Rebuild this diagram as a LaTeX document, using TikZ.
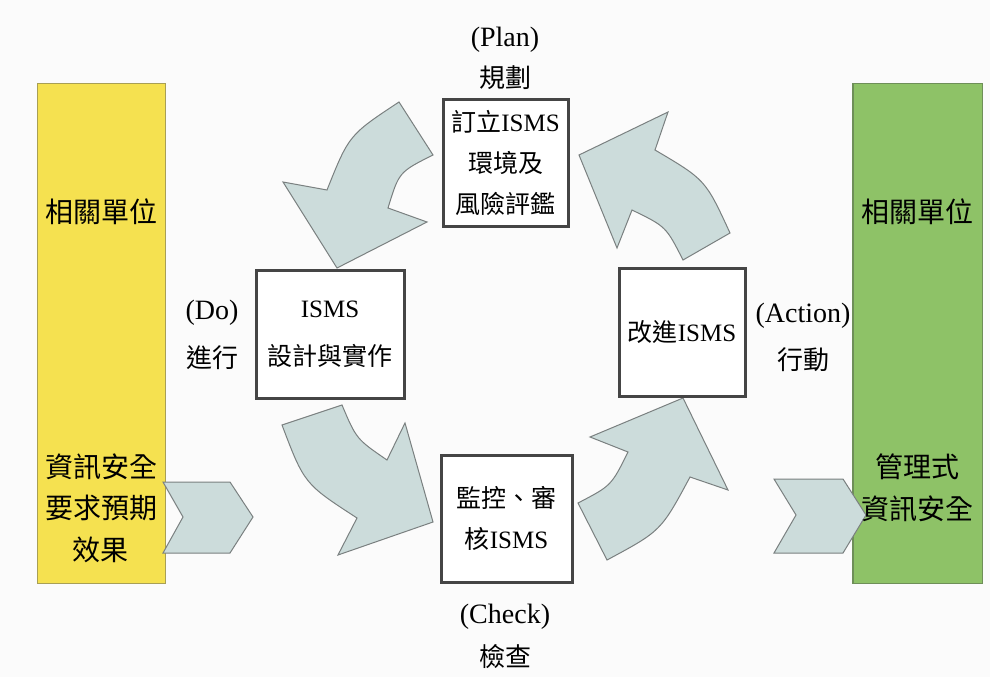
\documentclass[tikz,border=0pt]{standalone}
\usepackage{fontspec}
\setmainfont{Liberation Serif}
\newfontfamily\cjk{Noto Sans CJK TC}
\definecolor{bgc}{HTML}{FBFBFB}
\definecolor{yfill}{HTML}{F5E150}
\definecolor{ydraw}{HTML}{A89F55}
\definecolor{gfill}{HTML}{8EC267}
\definecolor{gdraw}{HTML}{6E8F58}
\definecolor{afill}{HTML}{CCDCDB}
\definecolor{adraw}{HTML}{7A8080}
\definecolor{bdraw}{HTML}{454545}
\begin{document}
\begin{tikzpicture}[x=1pt,y=-1pt,
  sidebar/.style={line width=1pt},
  blockarrow/.style={fill=afill,draw=adraw,line width=1pt,line join=miter},
  stagebox/.style={draw=bdraw,fill=white,line width=3pt,inner sep=0pt,align=center,
    font=\fontsize{25}{41}\selectfont},
  sidetext/.style={inner sep=0pt,align=center,font=\fontsize{28}{41.5}\selectfont\cjk},
  lbl/.style={inner sep=0pt,font=\fontsize{28}{34}\selectfont},
  lblc/.style={inner sep=0pt,font=\fontsize{26}{34}\selectfont\cjk}]
\useasboundingbox (0,0) rectangle (990,677);
\fill[bgc] (0,0) rectangle (990,677);
% side bars
\draw[sidebar,fill=yfill,draw=ydraw] (37,83) rectangle (165,583);
\draw[sidebar,fill=gfill,draw=gdraw] (852,83) rectangle (982,583);
\draw[gdraw,line width=2pt] (853,83) -- (853,583);
% chevrons
\path[blockarrow] (163,482) -- (230,482) -- (253,517) -- (230,553) -- (163,553) -- (183,517) -- cycle;
\path[blockarrow] (774,479) -- (843,479) -- (866,515) -- (843,553) -- (774,553) -- (796,515) -- cycle;
% curved arrows
\path[blockarrow] (399,102) .. controls (349,135) .. (327,190) -- (283,182) -- (337,268) -- (427,222) -- (388,208) .. controls (399,172) .. (433,155) -- cycle;
\path[blockarrow] (683,260) -- (730,233) .. controls (705.5,179.8) .. (655,150) -- (668,112) -- (579,155) -- (617,248) -- (632,210) .. controls (666,226.5) .. (683,260) -- cycle;
\path[blockarrow] (282,425) -- (342,405) .. controls (356.4,439) .. (387,460) -- (405,423) -- (433,522) -- (338,555) -- (357,518) .. controls (304.3,483.8) .. (282,425) -- cycle;
\path[blockarrow] (607,560) .. controls (661,531) .. (690,477) -- (728,490) -- (683,398) -- (590,437) -- (628,452) .. controls (611.3,485.7) .. (578,503) -- cycle;
% stage boxes
\node[stagebox,minimum width=125pt,minimum height=127pt] (plan) at (505.5,163) {{\cjk 訂立}ISMS\\{\cjk 環境及}\\{\cjk 風險評鑑}};
\node[stagebox,minimum width=148pt,minimum height=128pt] (do) at (330,334) {ISMS\\[7pt]{\cjk 設計與實作}};
\node[stagebox,minimum width=131pt,minimum height=127pt] (check) at (506.5,518.5) {{\cjk 監控、審}\\{\cjk 核}ISMS};
\node[stagebox,minimum width=126pt,minimum height=128pt] (act) at (682,332) {{\cjk 改進}ISMS};
% side texts
\node[sidetext] (y1) at (101,212) {相關單位};
\node[sidetext] (y2) at (101,508) {資訊安全\\要求預期\\效果};
\node[sidetext] (g1) at (917,212) {相關單位};
\node[sidetext] (g2) at (917,488) {管理式\\資訊安全};
% labels
\node[lbl] (planl) at (505,40) {(Plan)};
\node[lblc] (planc) at (505,78) {規劃};
\node[lbl] (dol) at (212,313) {(Do)};
\node[lblc] (doc) at (212,358) {進行};
\node[lbl] (actl) at (803,316) {(Action)};
\node[lblc] (actc) at (803,360) {行動};
\node[lbl] (chkl) at (505,617) {(Check)};
\node[lblc] (chkc) at (505,657) {檢查};
\end{tikzpicture}
\end{document}
